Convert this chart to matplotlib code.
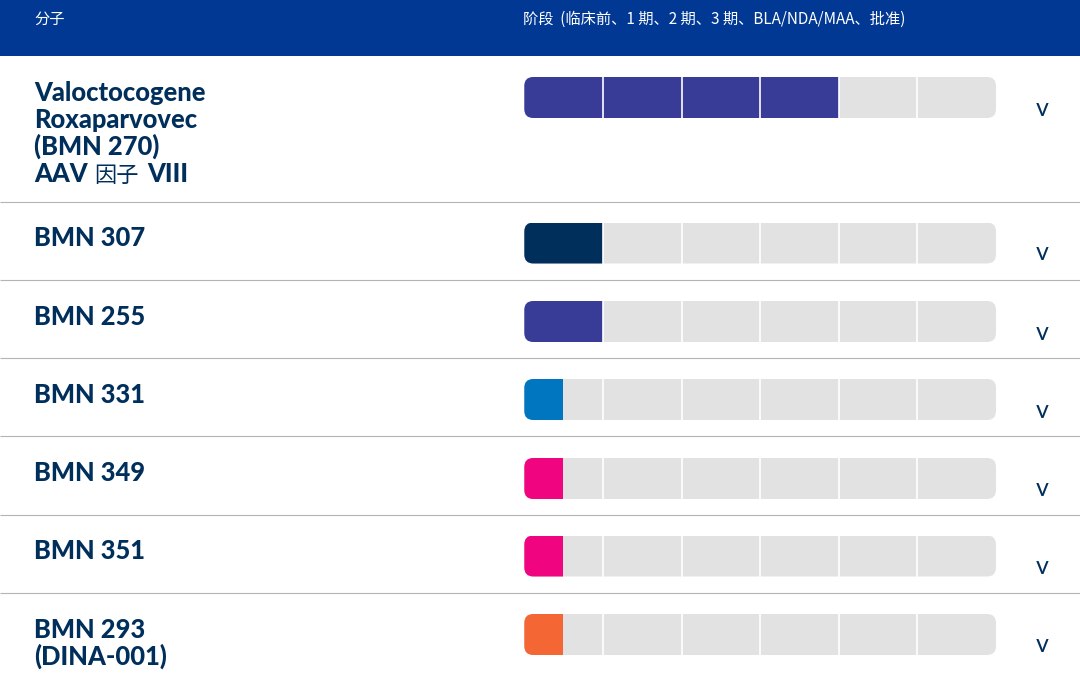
import matplotlib
matplotlib.use("Agg")
import matplotlib.pyplot as plt
from matplotlib.patches import FancyBboxPatch, Rectangle

W, H = 1080, 681

# data
molecules = [["Valoctocogene", "Roxaparvovec", "(BMN 270)"], ["BMN 307"], ["BMN 255"], ["BMN 331"],
             ["BMN 349"], ["BMN 351"], ["BMN 293", "(DINA-001)"]]
progress = [4, 1, 1, 0.49, 0.49, 0.49, 0.49]
colors = ["#393c96", "#002f5b", "#393c96", "#0076c0", "#f0047f", "#f0047f", "#f46734"]
header_left = "分子"
header_right = "阶段  (临床前、1 期、2 期、3 期、BLA/NDA/MAA、批准)"
n_stages = 6

# layout in pixels
bar_tops = [77, 222.5, 301, 379, 458, 535.5, 614]
bar_h = 41
baselines = [101, 246, 325, 403, 481, 559, 638]
line_step = 27
chevron_y = [108, 253, 332, 410, 489, 567, 645]
sep_y = [202, 280, 358, 436, 515, 593]
NAVY = "#002f5b"
CJK = ["Noto Sans CJK SC", "DejaVu Sans"]
BOLD = "Lato"
NAME_SIZE = 18.4
BAR_X = 524.3
BAR_W = 471.7

fig = plt.figure(figsize=(W / 100, H / 100), dpi=100, facecolor="white")

# background axes in pixels, for header, labels and separators
bg = fig.add_axes([0, 0, 1, 1])
bg.set_xlim(0, W)
bg.set_ylim(H, 0)
bg.axis("off")
bg.add_patch(Rectangle((0, 0), W, 56, color="#003893", lw=0))
bg.hlines(sep_y, 0, W, color="#b4b4b4", lw=0.8)

bg.text(34.5, 19, header_left, color="white", fontsize=11, family=CJK, va="center")
bg.text(523, 19, header_right, color="white", fontsize=11, family=CJK, va="center")

for lines, y in zip(molecules, baselines):
    for i, line in enumerate(lines):
        bg.text(34.5, y + i * line_step, line, color=NAVY, fontsize=NAME_SIZE, family=BOLD,
                weight="black", va="baseline")

# fourth line of the first row mixes latin bold with regular CJK
y4 = baselines[0] + 3 * line_step
bg.text(34.5, y4, "AAV", color=NAVY, fontsize=NAME_SIZE, family=BOLD, weight="black", va="baseline")
bg.text(94, y4, "因子", color=NAVY, fontsize=16, family=CJK, va="baseline")
bg.text(147, y4, "VIII", color=NAVY, fontsize=NAME_SIZE, family=BOLD, weight="black", va="baseline")

for y in chevron_y:
    bg.text(1042, y, "v", color=NAVY, fontsize=18, family="Lato", ha="center", va="center")

# bars: x axis is in stages, y stays in pixels
ax = fig.add_axes([BAR_X / W, 0, BAR_W / W, 1])
ax.set_xlim(0, n_stages)
ax.set_ylim(H, 0)
ax.axis("off")
ax.patch.set_alpha(0)

for top, done, col in zip(bar_tops, progress, colors):
    # rounded outline is built in pixels so the corners stay circular
    outline = FancyBboxPatch((BAR_X + 9, top + 9), BAR_W - 18, bar_h - 18,
                             boxstyle="round,pad=9,rounding_size=9",
                             transform=bg.transData, fc="none", ec="none")
    bg.add_patch(outline)
    y = top + bar_h / 2
    for b in (ax.barh(y, n_stages, height=bar_h, color="#e2e2e2", lw=0)[0],
              ax.barh(y, done, height=bar_h, color=col, lw=0)[0]):
        b.set_clip_path(outline)
    ax.vlines(range(1, n_stages), top, top + bar_h, color="white", lw=1.2)

fig.savefig("out.png", dpi=100, facecolor="white")
